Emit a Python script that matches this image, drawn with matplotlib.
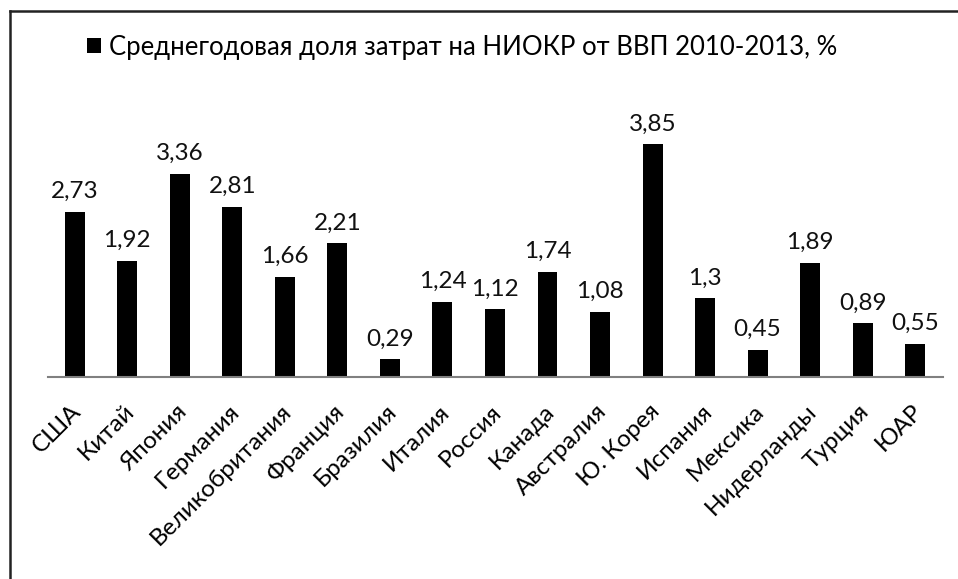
import matplotlib.pyplot as plt
import matplotlib.transforms as mtransforms
from matplotlib.lines import Line2D

countries = ["США", "Китай", "Япония", "Германия", "Великобритания", "Франция",
             "Бразилия", "Италия", "Россия", "Канада", "Австралия", "Ю. Корея",
             "Испания", "Мексика", "Нидерланды", "Турция", "ЮАР"]
values = [2.73, 1.92, 3.36, 2.81, 1.66, 2.21, 0.29, 1.24, 1.12, 1.74, 1.08,
          3.85, 1.3, 0.45, 1.89, 0.89, 0.55]
series_name = "Среднегодовая доля затрат на НИОКР от ВВП 2010-2013, %"

plt.rcParams["font.family"] = ["Lato", "DejaVu Sans"]

fig = plt.figure(figsize=(9.58, 5.79), dpi=100)
ax = fig.add_axes([48 / 958, 1 - 377 / 579, (943 - 48) / 958, 277 / 579])

x = range(len(countries))
bars = ax.bar(x, values, width=0.38, color="black", label=series_name)

labels = [str(v).replace(".", ",") for v in values]
ax.bar_label(bars, labels=labels, padding=7, fontsize=17.5, color="#111111")

ax.set_xlim(-0.51, 16.53)
ax.set_ylim(0, 277 / 60.5)

ax.set_xticks(list(x))
ax.set_xticklabels(countries, rotation=45, ha="right", rotation_mode="anchor",
                   fontsize=17.5, color="#000000")
ax.tick_params(axis="x", length=0, pad=17)
shift = mtransforms.ScaledTranslation(-4 / 100, 0, fig.dpi_scale_trans)
for lbl in ax.get_xticklabels():
    lbl.set_transform(lbl.get_transform() + shift)
ax.set_yticks([])

for side in ["top", "right", "left"]:
    ax.spines[side].set_visible(False)
ax.spines["bottom"].set_color("#808080")
ax.spines["bottom"].set_linewidth(1.5)

fig.legend(handles=[bars], labels=[series_name], loc="center",
           bbox_to_anchor=(462 / 958, 1 - 47 / 579), frameon=False,
           fontsize=18.5, handlelength=0.55, handleheight=0.55, handletextpad=0.3)

# outer frame (top and left edges visible)
fig.add_artist(Line2D([10 / 958, 1], [1 - 11 / 579, 1 - 11 / 579],
                      transform=fig.transFigure, color="#222222", linewidth=1.8))
fig.add_artist(Line2D([10 / 958, 10 / 958], [0, 1 - 11 / 579],
                      transform=fig.transFigure, color="#222222", linewidth=1.8))

fig.savefig("out.png", dpi=100)
